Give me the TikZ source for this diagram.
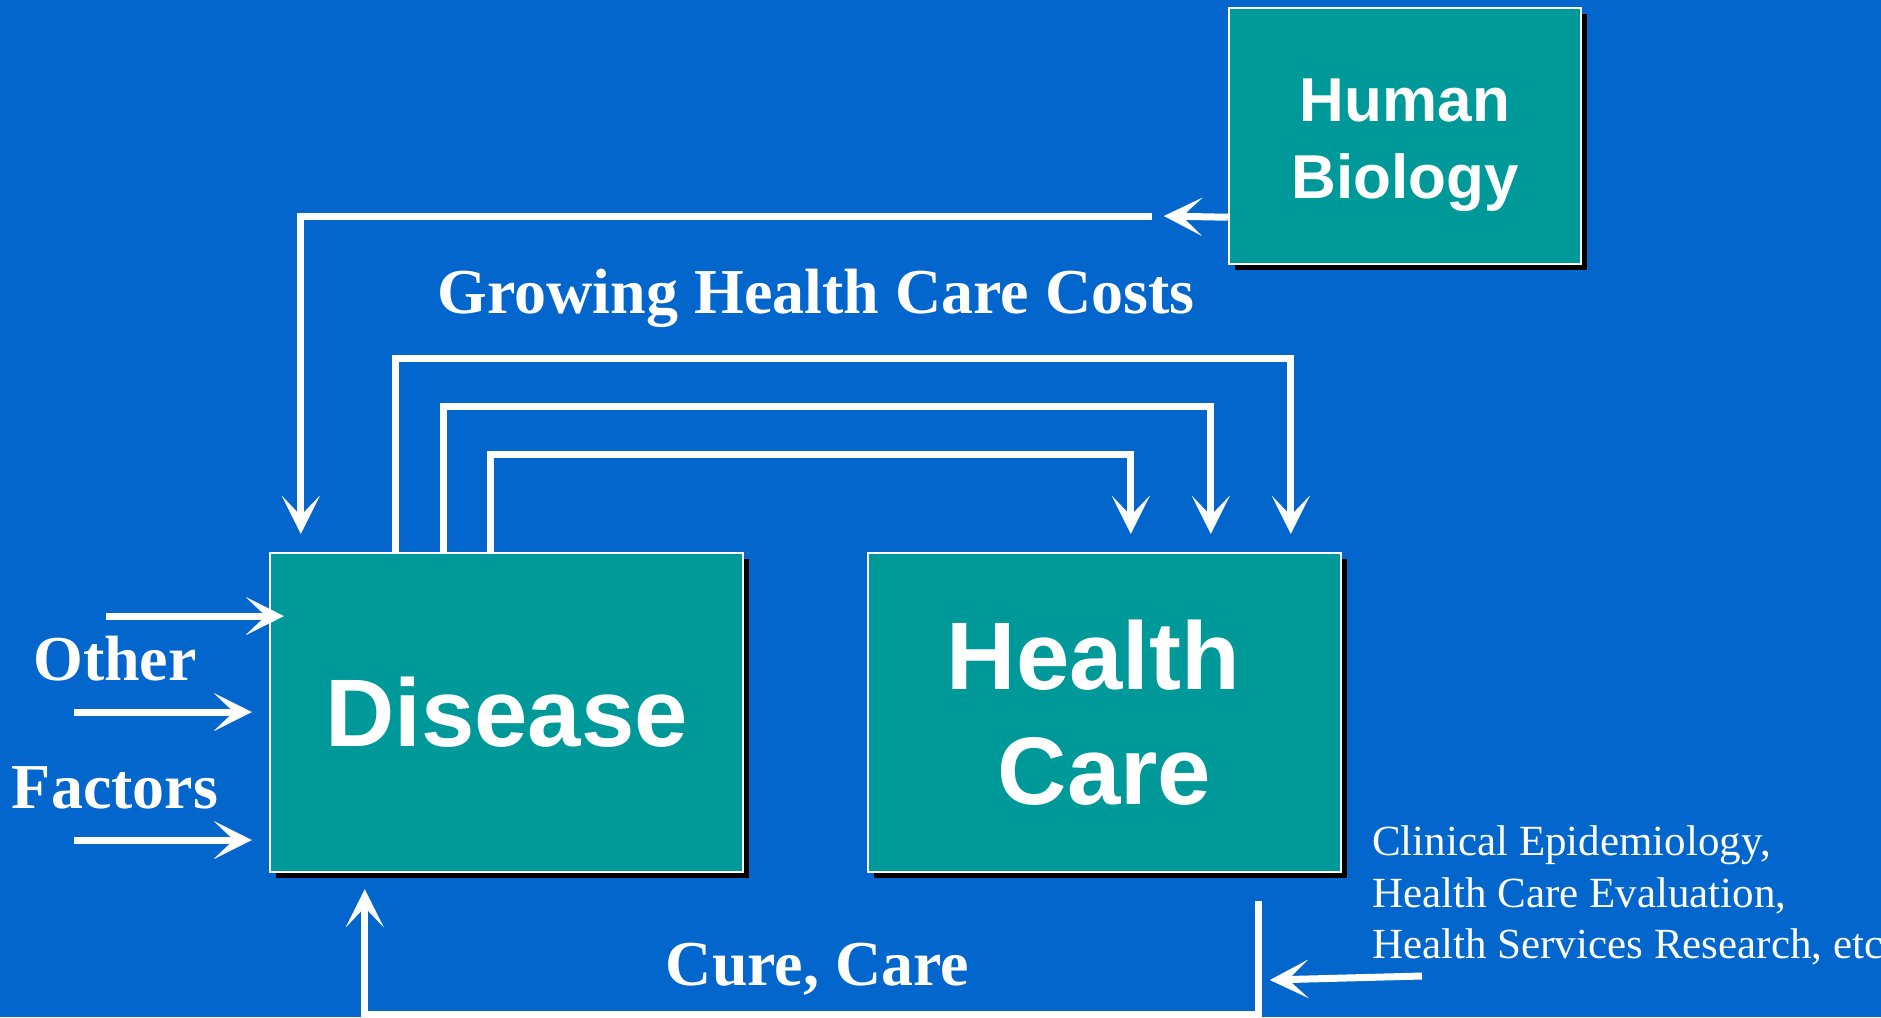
\documentclass[tikz,border=0pt]{standalone}
\usepackage{fontspec}
\setmainfont{Liberation Serif}
\newfontfamily\boxfont{Liberation Sans}
\usetikzlibrary{arrows.meta,calc,shadows}
\definecolor{bgblue}{RGB}{3,102,204}
\definecolor{tealbox}{RGB}{0,153,153}
\begin{document}
\begin{tikzpicture}[x=1pt,y=-1pt,
  box/.style={draw=white, line width=2.5pt, fill=tealbox, inner sep=0pt, text=white, align=center,
    drop shadow={shadow xshift=6pt, shadow yshift=-6pt, fill=black, opacity=1}},
  conn/.style={draw=white, line width=7pt},
  arr/.style={-{Stealth[length=38pt,width=38pt,inset=20pt,line width=0.01pt]}},
  lbl/.style={text=white, inner sep=0pt, font=\bfseries\fontsize{64}{64}\selectfont},
  small/.style={text=white, inner sep=0pt, anchor=base west, font=\fontsize{43}{51}\selectfont}
]
\fill[bgblue] (0,0) rectangle (1881,1017);
\useasboundingbox (0,0) rectangle (1881,1017);

% boxes
\node[box, minimum width=473pt, minimum height=319pt, font=\boxfont\bfseries\fontsize{96}{115}\selectfont] (dis) at (506.5,712.5) {Disease};
\node[box, minimum width=473pt, minimum height=319pt, font=\boxfont\bfseries\fontsize{96}{115}\selectfont] (hc) at (1104.5,712.5) {Health\kern22pt\\Care};
\node[box, minimum width=352pt, minimum height=256pt, font=\boxfont\bfseries\fontsize{62}{77}\selectfont] (hb) at (1405,136) {\rule{0pt}{62pt}Human\\Biology};

% Human biology -> disease
\coordinate (hbout) at ($(hb.south west)+(0,-48)$);
\coordinate (hbtip) at (1164,216);
\coordinate (gstart) at (1152,216);
\coordinate (dtop) at ($(dis.north west)+(32,-18)$);
\draw[conn,arr] (hbout) -- (hbtip);
\draw[conn,arr] (gstart) -| (dtop);

% nested disease -> health care
\coordinate (o1) at ($(dis.north west)+(127,0)$);
\coordinate (o2) at ($(dis.north west)+(175,0)$);
\coordinate (o3) at ($(dis.north west)+(222,0)$);
\coordinate (t1) at ($(hc.north west)+(424,-18)$);
\coordinate (t2) at ($(hc.north west)+(344,-18)$);
\coordinate (t3) at ($(hc.north west)+(264,-18)$);
\draw[conn,arr] (o1) |- ($(t1)+(0,-175)$) -- (t1);
\draw[conn,arr] (o2) |- ($(t2)+(0,-127)$) -- (t2);
\draw[conn,arr] (o3) |- ($(t3)+(0,-79)$) -- (t3);

% cure, care loop
\coordinate (cstart) at ($(hc.south west)+(392,28)$);
\coordinate (ctip) at ($(dis.south west)+(96,16)$);
\draw[conn,arr] (cstart) -- ++(0,113) -| (ctip);

% research arrow
\coordinate (rstart) at (1422,976);
\coordinate (rtip) at (1270,980);
\draw[conn,arr] (rstart) -- (rtip);

% other factors arrows
\coordinate (f1s) at (106,616);
\coordinate (f2s) at (74,712);
\coordinate (f3s) at (74,840);
\coordinate (f1t) at ($(dis.west |- f1s)+(15,0)$);
\coordinate (f2t) at ($(dis.west |- f2s)+(-17,0)$);
\coordinate (f3t) at ($(dis.west |- f3s)+(-17,0)$);
\draw[conn,arr] (f1s) -- (f1t);
\draw[conn,arr] (f2s) -- (f2t);
\draw[conn,arr] (f3s) -- (f3t);

% labels
\node[lbl, anchor=base] (lg) at (816,313) {Growing Health Care Costs};
\node[lbl, anchor=base] (lo) at (115,680) {Other};
\node[lbl, anchor=base] (lf) at (115,808) {Factors};
\node[lbl, anchor=base] (lc) at (817.5,985) {Cure, Care};
\node[small] (r1) at (1372,855) {Clinical Epidemiology,};
\node[small] (r2) at (1372,907) {Health Care Evaluation,};
\node[small] (r3) at (1372,958) {Health Services Research, etc};
\end{tikzpicture}
\end{document}
